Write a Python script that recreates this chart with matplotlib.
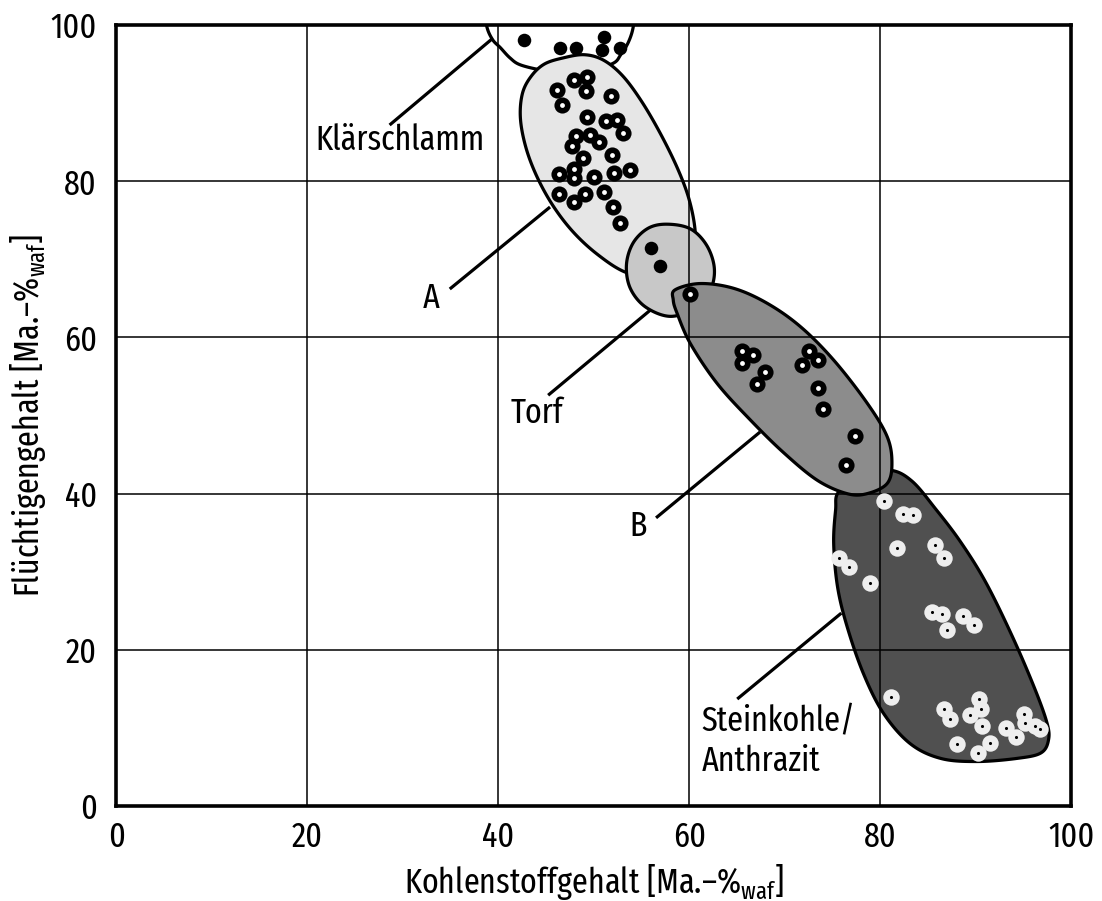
import numpy as np
import matplotlib
matplotlib.use('Agg')
import matplotlib.pyplot as plt

plt.rcParams['font.family'] = ['Fira Sans Extra Condensed', 'Fira Sans Condensed', 'DejaVu Sans']
plt.rcParams['mathtext.fontset'] = 'custom'
plt.rcParams['mathtext.rm'] = 'Fira Sans Extra Condensed'
plt.rcParams['font.size'] = 25

# measured points (C content, volatiles), Ma.-% waf
klaer_c = [42.7, 46.4, 48.1, 51.0, 50.8, 52.7]
klaer_v = [98.1, 97.1, 97.1, 98.5, 96.8, 97.0]

torf_c = [56.0, 56.9]
torf_v = [71.5, 69.2]

a_c = [47.9, 49.3, 46.1, 49.2, 51.8, 46.7, 49.3, 51.3, 52.4, 53.0, 48.1, 49.6, 50.5, 47.7,
       48.9, 51.9, 47.9, 46.3, 47.9, 50.0, 52.1, 53.8, 46.3, 47.9, 49.1, 51.0, 52.0, 52.7]
a_v = [93.0, 93.3, 91.7, 91.6, 90.9, 89.7, 88.2, 87.7, 87.8, 86.2, 85.8, 85.9, 85.0, 84.5,
       83.0, 83.3, 81.6, 80.9, 80.4, 80.6, 81.1, 81.4, 78.4, 77.4, 78.4, 78.6, 76.7, 74.6]

b_c = [60.1, 65.5, 66.7, 65.5, 67.9, 67.1, 72.5, 73.5, 71.8, 73.5, 74.0, 77.3, 76.4]
b_v = [65.5, 58.3, 57.8, 56.7, 55.6, 54.1, 58.3, 57.1, 56.5, 53.5, 50.9, 47.4, 43.7]

stein_c = [80.4, 82.4, 83.4, 81.7, 85.7, 86.7, 75.7, 76.7, 78.9, 85.4, 86.4, 88.6, 89.8, 87.0,
           81.1, 90.3, 90.5, 86.7, 87.3, 89.4, 90.6, 93.1, 95.0, 95.1, 96.2, 96.7, 94.2, 91.5,
           88.0, 90.2]
stein_v = [39.0, 37.4, 37.3, 33.0, 33.4, 31.8, 31.7, 30.6, 28.6, 24.9, 24.6, 24.3, 23.2, 22.6,
           14.0, 13.7, 12.4, 12.4, 11.2, 11.6, 10.2, 10.0, 11.8, 10.6, 10.3, 9.9, 8.8, 8.1,
           8.0, 6.8]

# region outlines (same units)
klaer_out_c = [38.8, 39.4, 40.2, 41.2, 42.3, 44.7, 47.0, 49.6, 52.0, 52.8, 53.6, 54.1, 54.2,
               52.8, 46.5, 40.2, 38.6]
klaer_out_v = [99.7, 98.1, 97.1, 95.8, 94.9, 94.2, 94.0, 94.2, 95.1, 96.2, 97.8, 99.7, 101.9,
               105.8, 107.0, 105.8, 101.9]

a_out_c = [46.8, 49.0, 51.0, 53.0, 55.0, 57.0, 58.8, 60.0, 60.6, 60.4, 58.8, 56.2, 53.2,
           50.4, 47.9, 45.8, 44.1, 42.9, 42.3, 42.5, 43.4, 44.8]
a_out_v = [95.8, 96.2, 95.5, 93.5, 90.2, 86.0, 81.5, 77.5, 73.5, 70.3, 68.2, 67.6, 68.4,
           70.6, 73.4, 76.7, 80.4, 84.2, 88.0, 91.2, 93.4, 95.0]

torf_out_c = [57.7, 60.1, 61.8, 62.6, 62.2, 60.6, 58.0, 55.4, 53.8, 53.4, 54.1, 55.7]
torf_out_v = [74.5, 73.9, 71.8, 68.9, 66.1, 63.8, 62.7, 63.9, 66.3, 69.3, 72.1, 74.0]

b_out_c = [58.5, 61.1, 64.6, 68.1, 71.6, 75.1, 78.6, 80.7, 81.2, 80.7, 78.6, 76.5, 73.4,
           69.9, 66.4, 62.9, 60.1, 58.7, 58.3]
b_out_v = [66.1, 66.9, 66.3, 64.4, 61.4, 57.1, 51.6, 47.3, 43.9, 41.3, 40.0, 40.0, 41.7,
           45.2, 49.4, 54.1, 59.2, 63.1, 64.8]

stein_out_c = [75.6, 77.9, 81.0, 83.3, 85.8, 88.4, 91.0, 93.7, 96.0, 97.4, 97.6, 96.8, 94.3,
               90.1, 86.3, 83.1, 80.3, 78.2, 76.5, 75.5, 75.1, 75.3]
stein_out_v = [40.2, 42.4, 43.0, 41.6, 38.0, 33.8, 28.7, 22.0, 15.5, 10.8, 8.5, 6.8, 6.1,
               5.7, 6.1, 8.0, 11.9, 17.0, 23.0, 28.1, 33.6, 37.9]

# labels: text, text position, leader line (from, to)
labels = ['Klärschlamm', 'A', 'Torf', 'B', 'Steinkohle/\nAnthrazit']
label_pos = [(29.7, 85.3), (33.0, 65.0), (44.0, 50.3), (54.6, 35.9), (61.3, 8.3)]
leader_from = [(28.6, 87.2), (34.9, 66.2), (45.2, 52.6), (56.5, 36.9), (65.0, 13.7)]
leader_to = [(39.4, 98.3), (45.4, 76.7), (55.9, 63.5), (67.4, 47.9), (75.9, 24.7)]


def closed_curve(xs, ys, n=24):
    # periodic Catmull-Rom through the outline points
    p = np.column_stack([xs, ys])
    m = len(p)
    t = np.linspace(0, 1, n, endpoint=False)[:, None]
    segs = []
    for i in range(m):
        p0, p1, p2, p3 = p[i - 1], p[i], p[(i + 1) % m], p[(i + 2) % m]
        segs.append(0.5 * (2 * p1 + (-p0 + p2) * t + (2 * p0 - 5 * p1 + 4 * p2 - p3) * t ** 2
                           + (-p0 + 3 * p1 - 3 * p2 + p3) * t ** 3))
    return np.vstack(segs)


fig = plt.figure(figsize=(11.02, 9.01), dpi=100)
ax = fig.add_axes([0.1057, 0.1054, 0.8666, 0.8668])

regions = [(klaer_out_c, klaer_out_v, 'white'),
           (a_out_c, a_out_v, '#e6e6e6'),
           (torf_out_c, torf_out_v, '#c8c8c8'),
           (stein_out_c, stein_out_v, '#505050'),
           (b_out_c, b_out_v, '#8c8c8c')]
for i, (xs, ys, col) in enumerate(regions):
    pts = closed_curve(xs, ys)
    ax.fill(pts[:, 0], pts[:, 1], facecolor=col, edgecolor='black', lw=2.3,
            joinstyle='round', zorder=1 + i * 0.1)

ax.set_axisbelow(False)
ax.grid(True, color='black', lw=1.1)

# filled dots
ax.scatter(klaer_c + torf_c, klaer_v + torf_v, s=95, color='black', lw=0, zorder=5)
# ringed black dots
ax.scatter(a_c + b_c, a_v + b_v, s=135, color='black', lw=0, zorder=5)
ax.scatter(a_c + b_c, a_v + b_v, s=12, color='white', lw=0, zorder=6)
# light dots with black centre
ax.scatter(stein_c, stein_v, s=140, color='#eeeeee', lw=0, zorder=5)
ax.scatter(stein_c, stein_v, s=5, color='black', lw=0, zorder=6)

for txt, (tx, ty), (x0, y0), (x1, y1) in zip(labels, label_pos, leader_from, leader_to):
    ax.plot([x0, x1], [y0, y1], color='black', lw=2.3, solid_capstyle='butt', zorder=7)
    if '\n' in txt:
        ax.text(tx, ty, txt, ha='left', va='center', linespacing=1.2, zorder=8)
    else:
        ax.text(tx, ty, txt, ha='center', va='center', zorder=8)

ax.set_xlim(0, 100)
ax.set_ylim(0, 100)
ax.set_xticks(np.arange(0, 101, 20))
ax.set_yticks(np.arange(0, 101, 20))
ax.tick_params(length=0, labelsize=25)
ax.tick_params(axis='x', pad=10)
ax.tick_params(axis='y', pad=14)
for sp in ax.spines.values():
    sp.set_linewidth(2.6)
    sp.set_zorder(9)

ax.set_xlabel('Kohlenstoffgehalt [Ma.–%$_{\\mathrm{waf}}$]', fontsize=25, labelpad=6)
ax.set_ylabel('Flüchtigengehalt [Ma.–%$_{\\mathrm{waf}}$]', fontsize=25)
ax.yaxis.set_label_coords(-0.072, 0.5)

fig.savefig('out.png', dpi=100)
